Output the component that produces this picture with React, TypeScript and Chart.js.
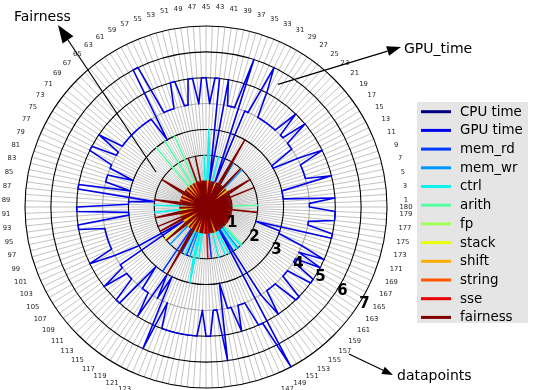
import React, { useEffect, useRef } from 'react';
import { Chart, registerables } from 'chart.js';

Chart.register(...registerables);

// ---------- data ----------
const SERIES_NAMES = ['CPU time', 'GPU time', 'mem_rd', 'mem_wr', 'ctrl', 'arith', 'fp', 'stack', 'shift', 'string', 'sse', 'fairness'];
const SERIES_COLORS = ['#000080', '#0000e9', '#003aff', '#0097ff', '#0bf3ec', '#56ffa1', '#a1ff56', '#ebff0b', '#ffad00', '#ff5700', '#e90000', '#800000'];

// datapoints 1..180, datapoint n sits at 2n degrees (counter-clockwise from east)
const DATAPOINTS = Array.from({ length: 180 }, (_, i) => i + 1);
const RADIAL_TICKS = [1, 2, 3, 4, 5, 6, 7];

// full series (datapoint 1..180)
const GPU_TIME = [
  4, 5, 3, 3, 3, 3, 5, 4, 4, 4,
  4, 4, 5, 4, 3, 3, 4, 4, 4, 5,
  4, 4, 5, 4, 4, 4, 4, 4, 4, 4,
  5, 6, 4, 4, 1, 6, 4, 4, 4, 5,
  1, 5, 5, 4, 5, 5, 4, 5, 5, 4,
  4, 5, 5, 4, 4, 4, 4, 6, 6, 3,
  4, 4, 4, 4, 4, 4, 4, 4, 4, 4,
  4, 4, 5, 4, 4, 5, 5, 4, 4, 3,
  4, 4, 4, 3, 5, 5, 2, 3, 3, 5,
  5, 3, 3, 5, 5, 4, 4, 4, 4, 4,
  4, 4, 5, 4, 3, 1, 4, 4, 5, 4,
  4, 4, 5, 5, 3, 4, 4, 4, 5, 3,
  4, 3, 6, 4, 5, 5, 5, 5, 5, 5,
  5, 5, 5, 4, 5, 5, 4, 4, 6, 3,
  4, 4, 5, 4, 4, 4, 5, 5, 7, 1,
  4, 5, 4, 4, 4, 4, 5, 5, 4, 4,
  4, 5, 5, 4, 4, 5, 4, 5, 4, 3,
  3, 2, 5, 5, 4, 4, 5, 5, 5, 4,
];

const FAIRNESS = [
  1, 0, 1, 0, 1, 0, 1, 0, 1, 0,
  2, 0, 1, 0, 1, 2, 1, 0, 0, 0,
  1, 0, 0, 2, 1, 0, 1, 0, 1, 3,
  1, 0, 1, 0, 0, 0, 1, 0, 1, 0,
  1, 0, 0, 0, 1, 0, 1, 0, 1, 0,
  2, 0, 1, 0, 2, 0, 0, 0, 1, 0,
  0, 0, 1, 0, 0, 0, 1, 0, 0, 0,
  1, 0, 1, 2, 1, 0, 0, 0, 1, 0,
  0, 0, 1, 0, 1, 2, 1, 0, 0, 0,
  1, 0, 0, 0, 1, 2, 1, 0, 0, 0,
  2, 0, 1, 2, 0, 0, 0, 0, 1, 2,
  1, 0, 0, 0, 1, 0, 0, 0, 1, 3,
  1, 0, 0, 0, 1, 0, 0, 0, 1, 0,
  1, 0, 0, 0, 1, 0, 0, 0, 1, 0,
  1, 0, 1, 0, 0, 0, 1, 0, 1, 0,
  1, 0, 1, 0, 1, 0, 1, 0, 1, 0,
  1, 0, 1, 0, 1, 0, 1, 0, 1, 0,
  1, 0, 1, 0, 1, 0, 2, 0, 1, 0,
];

// sparse series: [datapoint, value]; all other datapoints are 0
const CPU_TIME: [number, number][] = [];
const MEM_RD: [number, number][] = [[118, 3], [121, 2], [124, 2], [138, 2], [151, 2]];
const MEM_WR: [number, number][] = [[23, 2], [29, 2], [113, 2], [126, 2], [154, 2]];
const CTRL: [number, number][] = [[38, 2], [43, 2], [44, 3], [46, 2], [89, 2], [93, 2], [123, 2], [128, 2], [129, 3], [131, 2], [142, 2], [146, 2], [148, 2], [153, 2], [156, 2]];
const ARITH: [number, number][] = [[1, 2], [57, 3], [61, 3], [65, 3], [157, 2]];
const FP: [number, number][] = [[20, 1], [72, 1], [156, 1]];
const STACK: [number, number][] = [[22, 1], [28, 1], [34, 1], [40, 1], [52, 1], [94, 1], [109, 2], [114, 1], [126, 1], [160, 1]];
const SHIFT: [number, number][] = [[19, 1], [44, 1], [50, 1], [62, 1], [64, 1], [66, 1], [68, 1], [76, 1], [80, 1], [84, 1], [92, 1], [100, 1], [106, 1], [108, 1], [112, 1], [118, 1], [122, 1], [140, 1], [144, 1], [150, 1], [170, 1], [174, 1]];
const STRING: [number, number][] = [[42, 1], [54, 1], [58, 1], [60, 1], [70, 1], [78, 1], [82, 1], [90, 1], [98, 1], [102, 1], [116, 1], [124, 1], [132, 1], [142, 1], [146, 1], [164, 1], [178, 1]];
const SSE: [number, number][] = [[26, 1], [36, 1], [48, 1], [56, 1], [128, 1], [130, 1], [134, 1], [136, 2], [138, 1], [148, 1], [166, 1]];

function expand(pairs: [number, number][]): number[] {
  const out = DATAPOINTS.map(() => 0);
  for (const [n, v] of pairs) out[n - 1] = v;
  return out;
}

const SERIES_VALUES: number[][] = [
  expand(CPU_TIME), GPU_TIME, expand(MEM_RD), expand(MEM_WR), expand(CTRL), expand(ARITH),
  expand(FP), expand(STACK), expand(SHIFT), expand(STRING), expand(SSE), FAIRNESS,
];

// annotations: arrow tail in data coords (angle deg, value), tip & text in pixels
const ANNOTATIONS = [
  { text: 'Fairness', angle: 145, value: 2.36, tip: [58, 25], textAt: [14, 21], head: [18, 13] },
  { text: 'GPU_time', angle: 59.6, value: 5.5, tip: [401, 47], textAt: [404, 52.5], head: [14, 10] },
  { text: 'datapoints', angle: -45.8, value: 7.93, tip: [393, 375], textAt: [397, 379.5], head: [11, 8] },
];

const FONT = '"DejaVu Sans", "Liberation Sans", sans-serif';

function polarToPixel(s: any, angleDeg: number, value: number) {
  const d = s.getDistanceFromCenterForValue(value);
  const t = (angleDeg * Math.PI) / 180;
  return { x: s.xCenter + d * Math.cos(t), y: s.yCenter - d * Math.sin(t) };
}

function drawArrow(ctx: CanvasRenderingContext2D, x0: number, y0: number, x1: number, y1: number, hl: number, hw: number) {
  const a = Math.atan2(y1 - y0, x1 - x0);
  const bx = x1 - hl * Math.cos(a);
  const by = y1 - hl * Math.sin(a);
  ctx.beginPath();
  ctx.moveTo(x0, y0);
  ctx.lineTo(bx, by);
  ctx.stroke();
  ctx.beginPath();
  ctx.moveTo(x1, y1);
  ctx.lineTo(bx + (hw / 2) * Math.sin(a), by - (hw / 2) * Math.cos(a));
  ctx.lineTo(bx - (hw / 2) * Math.sin(a), by + (hw / 2) * Math.cos(a));
  ctx.closePath();
  ctx.fill();
}

const decorPlugin = {
  id: 'polarDecor',
  beforeDatasetsDraw(chart: any) {
    const s = chart.scales.r;
    const ctx: CanvasRenderingContext2D = chart.ctx;
    ctx.save();
    RADIAL_TICKS.forEach((v) => {
      ctx.beginPath();
      ctx.arc(s.xCenter, s.yCenter, s.getDistanceFromCenterForValue(v), 0, Math.PI * 2);
      ctx.strokeStyle = v === 4 ? '#a8a8a8' : '#000000';
      ctx.lineWidth = 1.1;
      ctx.stroke();
    });
    ctx.fillStyle = '#262626';
    ctx.font = `6.8px ${FONT}`;
    ctx.textAlign = 'center';
    ctx.textBaseline = 'middle';
    chart.data.labels.forEach((lab: string, k: number) => {
      const n = Number(lab);
      if (n % 2 === 1 || n === 180) {
        const p = s.getPointPosition(k, s.drawingArea + 19);
        ctx.fillText(lab, p.x, p.y);
      }
    });
    ctx.restore();
  },
  afterDatasetsDraw(chart: any) {
    const s = chart.scales.r;
    const ctx: CanvasRenderingContext2D = chart.ctx;
    ctx.save();
    ctx.fillStyle = '#000';
    ctx.font = `bold 15px ${FONT}`;
    ctx.textAlign = 'center';
    ctx.textBaseline = 'middle';
    RADIAL_TICKS.forEach((v) => {
      const d = s.getDistanceFromCenterForValue(v) + 5;
      const p = polarToPixel(s, -31.5, s.getValueForDistanceFromCenter(d));
      ctx.fillText(String(v), p.x, p.y);
    });
    ctx.restore();
  },
  afterDraw(chart: any) {
    const s = chart.scales.r;
    const ctx: CanvasRenderingContext2D = chart.ctx;
    ctx.save();
    // legend
    const lx = 417, ly = 102, lw = 111, lh = 221;
    ctx.fillStyle = '#e5e5e5';
    ctx.fillRect(lx, ly, lw, lh);
    ctx.font = `13.4px ${FONT}`;
    ctx.textAlign = 'left';
    ctx.textBaseline = 'middle';
    chart.data.datasets.forEach((ds: any, i: number) => {
      const y = 111.7 + i * 18.7;
      ctx.strokeStyle = ds.borderColor;
      ctx.lineWidth = 3;
      ctx.beginPath();
      ctx.moveTo(421, y);
      ctx.lineTo(451, y);
      ctx.stroke();
      ctx.fillStyle = '#000';
      ctx.fillText(ds.label, 460, y + 0.5);
    });
    // annotations
    ctx.strokeStyle = '#000';
    ctx.fillStyle = '#000';
    ctx.lineWidth = 1.2;
    ctx.font = `14px ${FONT}`;
    ctx.textBaseline = 'alphabetic';
    ANNOTATIONS.forEach((a) => {
      const p = polarToPixel(s, a.angle, a.value);
      drawArrow(ctx, p.x, p.y, a.tip[0], a.tip[1], a.head[0], a.head[1]);
      ctx.fillText(a.text, a.textAt[0], a.textAt[1]);
    });
    ctx.restore();
  },
};

export default function App() {
  const ref = useRef<HTMLCanvasElement>(null);
  useEffect(() => {
    const canvas = ref.current!;
    const labels = DATAPOINTS.slice().reverse().map(String);
    const chart = new Chart(canvas, {
      type: 'radar',
      data: {
        labels,
        datasets: SERIES_NAMES.map((name, i) => ({
          label: name,
          data: SERIES_VALUES[i].slice().reverse(),
          borderColor: SERIES_COLORS[i],
          backgroundColor: SERIES_COLORS[i],
          borderWidth: 1.6,
          borderJoinStyle: 'round' as const,
          fill: false,
          pointRadius: 0,
          pointHoverRadius: 0,
          pointHitRadius: 0,
          order: SERIES_NAMES.length - 1 - i,
        })),
      },
      options: {
        responsive: false,
        devicePixelRatio: 1,
        animation: false,
        events: [],
        layout: { padding: { left: 25, right: 146, top: 26, bottom: 2 } },
        plugins: { legend: { display: false }, tooltip: { enabled: false } },
        scales: {
          r: {
            min: 0,
            max: 7,
            startAngle: 90,
            ticks: { display: false, stepSize: 1 },
            pointLabels: { display: false },
            grid: { display: false },
            angleLines: { display: true, color: '#b4b4b4', lineWidth: 0.8 },
          },
        },
      },
      plugins: [decorPlugin],
    } as any);
    return () => chart.destroy();
  }, []);
  return (
    <div style={{ position: 'fixed', left: 0, top: 0, width: 533, height: 390, background: '#fff' }}>
      <canvas ref={ref} width={533} height={390} style={{ display: 'block' }} />
    </div>
  );
}
